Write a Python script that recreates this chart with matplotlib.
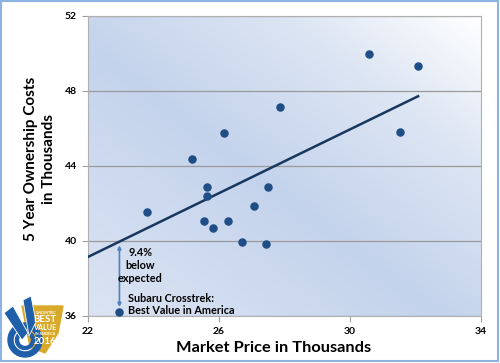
import numpy as np
import matplotlib
matplotlib.use("Agg")
import matplotlib.pyplot as plt
from matplotlib.colors import LinearSegmentedColormap
from matplotlib.patches import Polygon, Wedge, Rectangle

plt.rcParams["font.family"] = ["Lato", "DejaVu Sans"]

# market price / 5-year ownership cost, in thousands
price = [30.59, 32.08, 27.87, 26.16, 25.19, 31.54, 23.81, 25.62, 25.62,
         27.51, 27.07, 25.54, 26.27, 25.83, 26.70, 27.44]
cost = [49.95, 49.31, 47.17, 45.75, 44.35, 45.82, 41.53, 42.86, 42.42,
        42.90, 41.87, 41.09, 41.09, 40.68, 39.94, 39.85]
crosstrek_price = 22.96
crosstrek_cost = 36.23

# trend line as drawn in the source chart
trend_x = [22, 32.08]
trend_y = [39.15, 47.72]

x_ticks = [22, 26, 30, 34]
y_ticks = [36, 40, 44, 48, 52]

fig = plt.figure(figsize=(5, 3.63), dpi=100)
ax = fig.add_axes([0.176, 0.1295, 0.786, 0.8265])

# diagonal gradient background
cmap = LinearSegmentedColormap.from_list(
    "bg", [(0, "#dbe4f3"), (0.45, "#c4d3ec"), (0.75, "#dce5f3"), (1.0, "#ffffff")])
u, v = np.meshgrid(np.linspace(0, 1, 200), np.linspace(0, 1, 200))
ax.imshow((u + v) / 2, cmap=cmap, origin="lower", extent=[0, 1, 0, 1],
          transform=ax.transAxes, aspect="auto", zorder=0, vmin=0, vmax=1)

ax.set_xlim(22, 34)
ax.set_ylim(36, 52)
ax.set_xticks(x_ticks)
ax.set_yticks(y_ticks)
ax.tick_params(labelsize=7.5, length=4, color="#a0a0a0", pad=4)
for lab in ax.get_xticklabels() + ax.get_yticklabels():
    lab.set_fontweight("bold")
ax.grid(axis="y", color="#9a9a9a", linewidth=0.9, zorder=1)
for s in ax.spines.values():
    s.set_color("#b0b0b0")
    s.set_linewidth(0.8)

ax.plot(trend_x, trend_y, color="#17375e", linewidth=1.8, zorder=3)

ax.scatter(price + [crosstrek_price], cost + [crosstrek_cost], s=26,
           color="#1f4e87", zorder=4, clip_on=False)

slope = (trend_y[1] - trend_y[0]) / (trend_x[1] - trend_x[0])
expected = trend_y[0] + slope * (crosstrek_price - trend_x[0])
ax.annotate("", xy=(crosstrek_price, expected - 0.2),
            xytext=(crosstrek_price, crosstrek_cost + 0.25),
            arrowprops=dict(arrowstyle="<|-|>", color="#4f81bd", lw=1.2,
                            mutation_scale=5, shrinkA=0, shrinkB=0), zorder=3)
ax.text(23.6, 38.69, "9.4%\nbelow\nexpected", ha="center", va="center",
        fontsize=7.8, fontweight="bold", linespacing=1.2, zorder=5)
ax.text(23.22, 36.61, "Subaru Crosstrek:\nBest Value in America", ha="left",
        va="center", fontsize=7.8, fontweight="bold", linespacing=1.2, zorder=5)

fig.text(274 / 500, 1 - 348 / 363, "Market Price in Thousands", ha="center",
         va="center", fontsize=11.8, fontweight="bold")
fig.text(40 / 500, 1 - 159 / 363, "5 Year Ownership Costs\nin Thousands",
         ha="center", va="center", rotation=90, fontsize=11,
         fontweight="bold", linespacing=1.35)

# badge in the lower-left corner and the picture frame
ov = fig.add_axes([0, 0, 1, 1], zorder=10)
ov.set_xlim(0, 500)
ov.set_ylim(363, 0)
ov.axis("off")
ov.add_patch(Rectangle((1, 1), 497, 360, fill=False, edgecolor="#8db3e2", lw=1.5))
ov.add_patch(Polygon([(22, 306), (63, 306), (58, 333), (45, 353), (30, 347)],
                     color="#d9a92a"))
ov.add_patch(Wedge((25, 340), 17, 0, 360, width=5, color="#1f5faa"))
ov.add_patch(Wedge((25, 340), 9.5, 0, 360, width=3, color="#1f5faa"))
ov.add_patch(Polygon([(4, 313), (13, 306), (28, 333), (22, 340)], color="#1f5faa",
                     ec="white", lw=0.6))
ov.add_patch(Polygon([(23, 300), (31, 296), (36, 322), (29, 336)], color="#1f5faa",
                     ec="white", lw=0.6))
ov.text(45, 313, "VINCENTRIC", color="white", fontsize=2.5, ha="center",
        va="center", fontweight="bold")
ov.text(45, 320, "BEST", color="white", fontsize=7, ha="center",
        va="center", fontweight="bold")
ov.text(45, 328, "VALUE", color="white", fontsize=5.2, ha="center",
        va="center", fontweight="bold")
ov.text(45, 334, "IN AMERICA", color="white", fontsize=2.5, ha="center",
        va="center", fontweight="bold")
ov.text(45, 341, "2016", color="white", fontsize=7, ha="center",
        va="center", fontweight="bold")

fig.savefig("out.png", dpi=100)
